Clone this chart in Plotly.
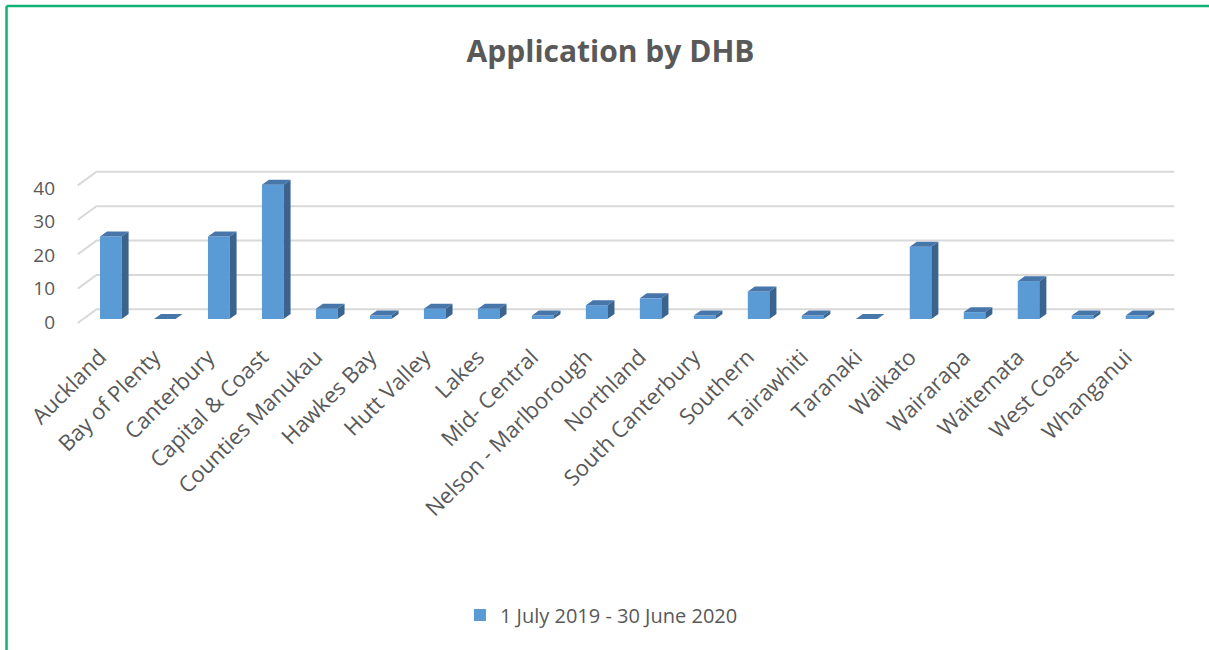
import plotly.graph_objects as go

categories = ["Auckland", "Bay of Plenty", "Canterbury", "Capital & Coast",
              "Counties Manukau", "Hawkes Bay", "Hutt Valley", "Lakes",
              "Mid- Central", "Nelson - Marlborough", "Northland",
              "South Canterbury", "Southern", "Tairawhiti", "Taranaki",
              "Waikato", "Wairarapa", "Waitemata", "West Coast", "Whanganui"]
values = [24, 0, 24, 39, 3, 1, 3, 3, 1, 4, 6, 1, 8, 1, 0, 21, 2, 11, 1, 1]
series_name = "1 July 2019 - 30 June 2020"
y_ticks = [0, 10, 20, 30, 40]
title_text = "Application by DHB"

# styling / pseudo-3D geometry (in axis units)
BAR_W = 0.4
DX = 0.13
DY = 1.45
GB = 2.8      # back wall offset
GF = 1.16     # front floor offset
X_FRONT = -0.611
X_BACK = -0.265
X_RIGHT = 19.70
FRONT = "#5B9BD5"
SIDE = "#3A648E"
TOP = "#4676AA"
GRID = "#D9D9D9"
TXT = "#595959"
FONT = "Open Sans"

n = len(categories)
xs = list(range(n))

fig = go.Figure()

fig.add_trace(go.Bar(x=xs, y=values, width=BAR_W, name=series_name,
                     marker=dict(color=FRONT, line=dict(width=0)),
                     hoverinfo="skip"))

sx, sy, tx, ty = [], [], [], []
for i, v in zip(xs, values):
    xl = i - BAR_W / 2
    xr = i + BAR_W / 2
    if v > 0:
        sx += [xr, xr + DX, xr + DX, xr, xr, None]
        sy += [0, DY, v + DY, v, 0, None]
    tx += [xl, xl + DX, xr + DX, xr, xl, None]
    ty += [v, v + DY, v + DY, v, v, None]

fig.add_trace(go.Scatter(x=sx, y=sy, mode="lines", fill="toself",
                         fillcolor=SIDE, line=dict(width=0, color=SIDE),
                         showlegend=False, hoverinfo="skip"))
fig.add_trace(go.Scatter(x=tx, y=ty, mode="lines", fill="toself",
                         fillcolor=TOP, line=dict(width=0, color=TOP),
                         showlegend=False, hoverinfo="skip"))
# invisible trace so the label axis (y2) is drawn
fig.add_trace(go.Scatter(x=[None], y=[None], yaxis="y2", mode="markers",
                         showlegend=False, hoverinfo="skip"))

shapes = []
for t in y_ticks:
    shapes.append(dict(type="path", xref="x", yref="y", layer="below",
                       path=f"M {X_FRONT},{t - GF} L {X_BACK},{t + GB} L {X_RIGHT},{t + GB}",
                       line=dict(color=GRID, width=2)))
# outer green border (top and left edges)
shapes.append(dict(type="line", xref="paper", yref="paper",
                   x0=-0.0602, x1=1.2, y0=1.8, y1=1.8,
                   line=dict(color="#12B276", width=2.5)))
shapes.append(dict(type="line", xref="paper", yref="paper",
                   x0=-0.0602, x1=-0.0602, y0=1.8, y1=-3,
                   line=dict(color="#12B276", width=2.5)))

fig.update_layout(
    width=1209, height=650, autosize=False,
    margin=dict(l=73, r=32, t=150, b=320),
    paper_bgcolor="white", plot_bgcolor="white",
    font=dict(family=FONT, color=TXT),
    title=dict(text=title_text, x=0.505, xref="container", xanchor="center",
               y=0.921, yref="container", yanchor="middle",
               font=dict(family=FONT, size=30, color=TXT, weight="bold")),
    xaxis=dict(range=[-0.7, 19.75], showgrid=False, zeroline=False,
               showline=False, ticks="", ticklabelstandoff=9,
               tickvals=[i - 0.2 for i in xs], ticktext=categories,
               tickangle=-45, tickfont=dict(family=FONT, size=22, color=TXT)),
    yaxis=dict(range=[-3.2, 49.13], showgrid=False, zeroline=False,
               showline=False, showticklabels=False, ticks=""),
    yaxis2=dict(range=[-2.388, 51.34], overlaying="y", side="left",
                showgrid=False, zeroline=False, showline=False, ticks="",
                tickvals=y_ticks, ticklabelstandoff=17,
                tickfont=dict(family=FONT, size=19, color=TXT)),
    legend=dict(orientation="h", x=0.3505, xanchor="left", y=-1.583,
                yanchor="middle", font=dict(family=FONT, size=20, color=TXT),
                bgcolor="rgba(0,0,0,0)"),
    shapes=shapes,
    showlegend=True,
)

fig.write_html("out.html")
